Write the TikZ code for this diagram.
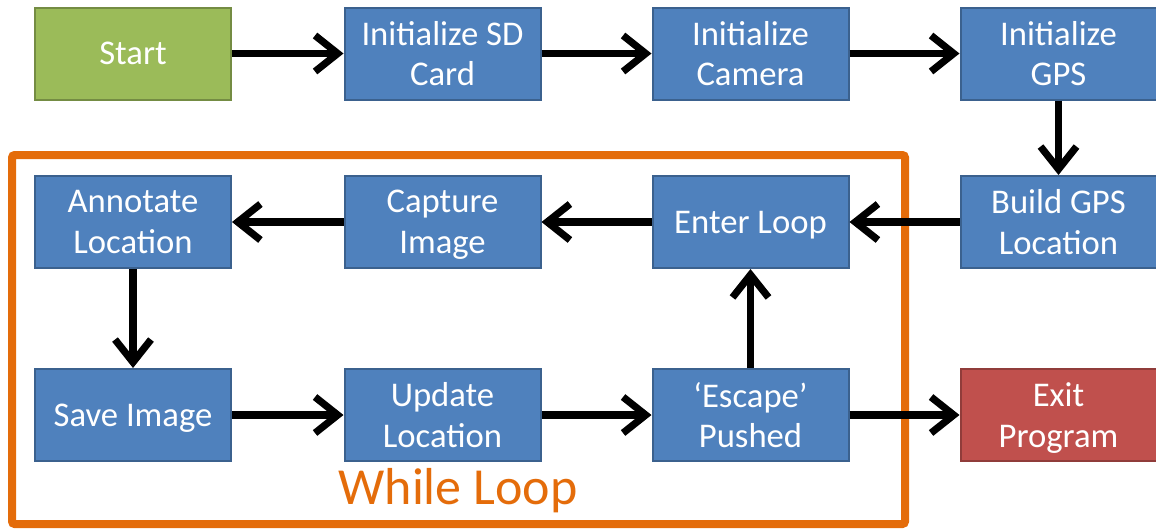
\documentclass[tikz,border=0pt]{standalone}
\usepackage{fontspec}
\setmainfont{Carlito}
\usetikzlibrary{arrows.meta,positioning}
\definecolor{sky}{RGB}{79,129,189}
\definecolor{leaf}{RGB}{155,187,89}
\definecolor{rust}{RGB}{192,80,77}
\definecolor{tang}{RGB}{228,108,10}
\tikzset{
  >={Straight Barb[length=17pt,width=27pt]},
  box/.style={draw=#1!75!black,fill=#1,line width=1.5pt,text=white,
    minimum width=147pt,minimum height=69pt,inner sep=2pt,align=center,
    text depth=0pt,font=\fontsize{26}{30.5}\selectfont},
  box/.default=sky,
  flow/.style={->,line width=5.4pt,draw=black},
  frame/.style={draw=tang,line width=6pt,rounded corners=2pt},
  tag/.style={font=\fontsize{39}{42}\selectfont,text=tang},
}
\begin{document}
\begin{tikzpicture}[x=0.75pt,y=-0.75pt]
  \useasboundingbox (0,0) rectangle (1156,529);
  % while loop frame
  \draw[frame] (12,155) rectangle (905,524);
  \node[tag,anchor=base] (lbl) at (458,504) {While Loop};
  % top row
  \node[box=leaf] (start) at (133,53.5) {Start};
  \node[box] (sd) at (442.5,53.5) {Initialize SD\\Card};
  \node[box] (cam) at (750.5,53.5) {Initialize\\Camera};
  \node[box] (gps) at (1058.5,53.5) {Initialize\\GPS};
  % middle row
  \node[box] (annot) at (133,222) {Annotate\\Location};
  \node[box] (capt) at (442.5,222) {Capture\\Image};
  \node[box] (enter) at (750.5,222) {Enter Loop};
  \node[box] (build) at (1058.5,222) {Build GPS\\Location};
  % bottom row
  \node[box] (save) at (133,415) {Save Image};
  \node[box] (upd) at (442.5,415) {Update\\Location};
  \node[box] (esc) at (750.5,415) {`Escape'\\Pushed};
  \node[box=rust] (exit) at (1058.5,415) {Exit\\Program};
  % connectors
  \draw[flow] (start) -- (sd);
  \draw[flow] (sd) -- (cam);
  \draw[flow] (cam) -- (gps);
  \draw[flow] (gps) -- (build);
  \draw[flow] (build) -- (enter);
  \draw[flow] (enter) -- (capt);
  \draw[flow] (capt) -- (annot);
  \draw[flow] (annot) -- (save);
  \draw[flow] (save) -- (upd);
  \draw[flow] (upd) -- (esc);
  \draw[flow] (esc) -- (enter);
  \draw[flow] (esc) -- (exit);
\end{tikzpicture}
\end{document}
